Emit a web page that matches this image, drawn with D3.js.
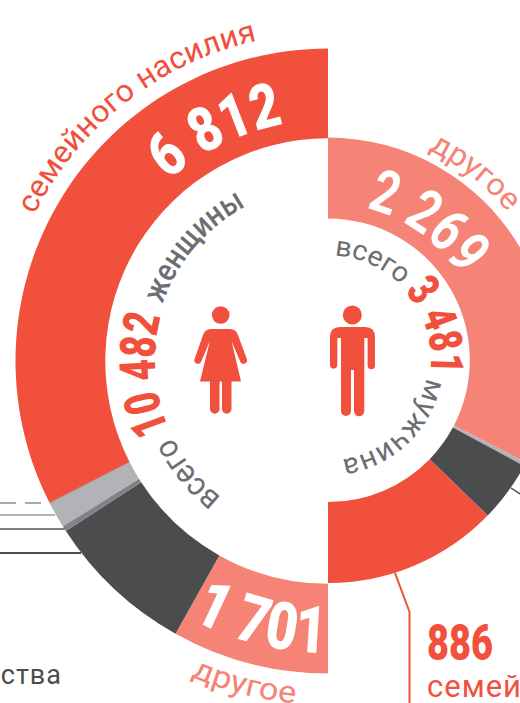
<!DOCTYPE html>
<html>
<head>
<meta charset="utf-8">
<script src="https://cdn.jsdelivr.net/npm/d3@7"></script>
<style>
  html, body { margin: 0; padding: 0; background: #fff; overflow: hidden; }
  svg { display: block; }
  text { font-family: Roboto, "Liberation Sans", sans-serif; }
</style>
</head>
<body>
<svg id="chart" width="520" height="703"></svg>
<script>
// left half of the ring, clockwise from the bottom
const women_categories = ['другое', 'dark', 'mid', 'light', 'sliver', 'семейного насилия'];
const women_values = [1701, 1620, 60, 280, 9, 6812];
// right half of the ring, clockwise from the top
const men_categories = ['другое', 'light', 'dark', 'семейного насилия'];
const men_values = [2269, 19, 307, 886];

const women_total = '10 482';
const men_total = '3 481';
const women_label = 'женщины';
const men_label = 'мужчина';
const total_label = 'всего';

let red = '#f0503c';
let salmon = '#f58376';
let dark = '#4b4c4e';
let mid = '#808285';
let light = '#b1b3b6';
let grey_text = '#6d6e71';

let colors = d3.scaleOrdinal()
    .domain(['другое', 'dark', 'mid', 'light', 'sliver', 'семейного насилия'])
    .range([salmon, dark, mid, light, mid, red]);

let svg = d3.select('#chart');
let center_x = 328;
let defs = svg.append('defs');
let path_id = 0;

function thousands(v) {
    return d3.format(',')(v).replace(',', ' ');
}

function draw_half(categories, values, cy, r0, r1, start, end) {
    let pie = d3.pie().sort(null).startAngle(start).endAngle(end);
    let arc = d3.arc().innerRadius(r0).outerRadius(r1);
    let g = svg.append('g').attr('transform', 'translate(' + center_x + ',' + cy + ')');
    g.selectAll('path').data(pie(values)).enter().append('path')
        .attr('d', arc)
        .attr('fill', function (d, i) { return colors(categories[i]); });
}

// angles in degrees, clockwise from the top
function arc_text(str, cy, r, a0, a1, size, weight, fill) {
    let rad = function (a) { return (a - 90) * Math.PI / 180; };
    let p = d3.path();
    p.moveTo(center_x + r * Math.cos(rad(a0)), cy + r * Math.sin(rad(a0)));
    p.arc(center_x, cy, r, rad(a0), rad(a1), a1 < a0);
    let id = 'p' + (path_id++);
    defs.append('path').attr('id', id).attr('d', p.toString());
    let target = Math.abs(a1 - a0) * Math.PI / 180 * r;

    let t = svg.append('text')
        .attr('font-size', size)
        .attr('font-weight', weight)
        .attr('fill', fill);
    // the original face is condensed, so stretch the glyphs to fit the arc
    t.append('textPath').attr('href', '#' + id).text(str)
        .attr('textLength', target).attr('lengthAdjust', 'spacingAndGlyphs');
    return t;
}

draw_half(women_categories, women_values, 361, 222.7, 312.5, Math.PI, 2 * Math.PI);
draw_half(men_categories, men_values, 360.3, 141.8, 222.7, 0, Math.PI);

// outer labels
arc_text('семейного насилия', 361, 328, -63.5, -12.5, 31, 400, red);
arc_text(men_categories[0], 360.3, 233, 25.5, 50.5, 31, 400, salmon);
arc_text(women_categories[0], 361, 344, 203.5, 185.5, 31, 400, salmon);

// numbers in the ring
arc_text(thousands(women_values[5]), 361, 241, -41.5, -10.5, 62, 900, '#fff');
arc_text(thousands(men_values[0]), 360.3, 157, 14, 57.5, 60, 700, '#fff');
arc_text(thousands(women_values[0]), 361, 292, 208, 180.5, 66, 900, '#fff');

// inner labels
arc_text(total_label, 360.3, 105, 3.5, 44, 28, 400, grey_text);
arc_text(men_total, 360.3, 103, 48, 97, 46, 900, red);
arc_text(men_label, 360.3, 100, 100, 172, 29, 400, grey_text);
arc_text(total_label, 361, 173, 218, 244, 33, 400, grey_text);
arc_text(women_total, 361, 173, 246.5, 285, 50, 900, red);
arc_text(women_label, 361, 175, 289, 332, 32, 500, grey_text);

// leader lines
let leaders = [
    { y: 503, x2: 46, c: '#a7a9ac', dash: '16 9' },
    { y: 515, x2: 55, c: light },
    { y: 529, x2: 65, c: mid },
    { y: 553, x2: 81, c: dark }
];
svg.selectAll('line.leader').data(leaders).enter().append('line')
    .attr('class', 'leader')
    .attr('x1', 0).attr('x2', function (d) { return d.x2; })
    .attr('y1', function (d) { return d.y; }).attr('y2', function (d) { return d.y; })
    .attr('stroke', function (d) { return d.c; })
    .attr('stroke-width', 2)
    .attr('stroke-dasharray', function (d) { return d.dash || null; });

svg.append('path').attr('d', 'M395,573L409.5,612V703').attr('fill', 'none').attr('stroke', red).attr('stroke-width', 2);
svg.append('path').attr('d', 'M511,488L520,494').attr('fill', 'none').attr('stroke', dark).attr('stroke-width', 1.5);

// texts around the ring
svg.append('text').attr('x', 427).attr('y', 660).attr('font-size', 50).attr('font-weight', 900).attr('fill', red)
    .attr('textLength', 66).attr('lengthAdjust', 'spacingAndGlyphs')
    .text(men_values[3]);
svg.append('text').attr('x', 427).attr('y', 697).attr('font-size', 31).attr('fill', red).attr('letter-spacing', 1)
    .text('семейного');
svg.append('text').attr('x', 62).attr('y', 684).attr('text-anchor', 'end').attr('font-size', 27).attr('fill', dark)
    .attr('letter-spacing', 1).text('ества');

// pictograms
let man = svg.append('g').attr('fill', red);
man.append('circle').attr('cx', 352.3).attr('cy', 315).attr('r', 9.5);
man.append('path').attr('d', 'M340,327H365Q375,327 375,337V365.5A3.7,3.7 0 0 1 367.6,365.5V338H364.3V411A5,5 0 0 1 354,411V370H351V411A5,5 0 0 1 341,411V338H337.3V365.5A3.7,3.7 0 0 1 330,365.5V337Q330,327 340,327Z');
let woman = svg.append('g').attr('fill', red);
woman.append('circle').attr('cx', 220.7).attr('cy', 315).attr('r', 8.8);
woman.append('path').attr('d', 'M211,329H230Q236,329 238,335L246.8,359A3.5,3.5 0 0 1 240.2,361.5L231.5,341L241,381.5H231.5V409A4.75,4.75 0 0 1 222,409V381.5H219.5V409A4.75,4.75 0 0 1 210,409V381.5H200L209.9,341L201.2,361.5A3.5,3.5 0 0 1 194.6,359L203,335Q205,329 211,329Z');
</script>
</body>
</html>
